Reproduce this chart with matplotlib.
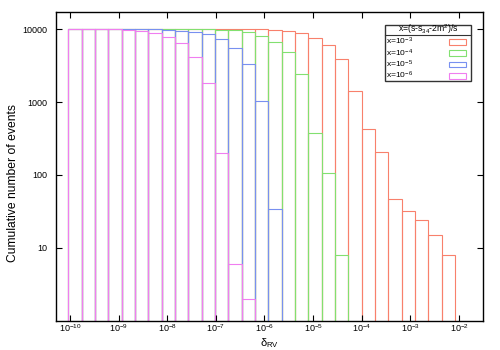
import numpy as np
import matplotlib
matplotlib.use('Agg')
import matplotlib.pyplot as plt
from matplotlib.patches import Rectangle
from matplotlib.lines import Line2D
from matplotlib.ticker import NullLocator, FixedLocator, FixedFormatter

plt.rcParams['font.family'] = ['Liberation Sans', 'DejaVu Sans']
plt.rcParams['mathtext.fontset'] = 'custom'
plt.rcParams['mathtext.rm'] = 'Liberation Sans'
plt.rcParams['mathtext.it'] = 'Liberation Sans:italic'
plt.rcParams['mathtext.bf'] = 'Liberation Sans:bold'
plt.rcParams['mathtext.default'] = 'regular'

# ---- data ----
bin_edges = np.logspace(-10.035, -2.08, 30)   # 29 log-spaced bins

legend_title = 'x=(s-s$_{34}$-2m$^{2}$)/s'
series_labels = ['x=10$^{-3}$', 'x=10$^{-4}$', 'x=10$^{-5}$', 'x=10$^{-6}$']

counts_x1e3 = [10000, 10000, 10000, 10000, 10000, 10000, 10000, 10000, 10000, 10000,
               10000, 10000, 10000, 10000, 9950, 9650, 9350, 8800, 7650, 6000,
               3870, 1410, 425, 206, 47, 32, 24, 15, 8]
counts_x1e4 = [10000, 10000, 10000, 10000, 10000, 10000, 10000, 10000, 10000, 10000,
               9980, 9900, 9650, 9050, 8150, 6700, 4800, 2430, 378, 106,
               8, 0, 0, 0, 0, 0, 0, 0, 0]
counts_x1e5 = [10000, 10000, 10000, 10000, 10000, 10000, 10000, 9900, 9600, 9250,
               8500, 7250, 5550, 3300, 1020, 34, 0, 0, 0, 0,
               0, 0, 0, 0, 0, 0, 0, 0, 0]
counts_x1e6 = [10000, 10000, 10000, 10000, 9800, 9500, 8900, 7900, 6400, 4200,
               1850, 199, 6, 2, 0, 0, 0, 0, 0, 0,
               0, 0, 0, 0, 0, 0, 0, 0, 0]

x_ticks = [1e-10, 1e-9, 1e-8, 1e-7, 1e-6, 1e-5, 1e-4, 1e-3, 1e-2]
x_ticklabels = ['10$^{-10}$', '10$^{-9}$', '10$^{-8}$', '10$^{-7}$', '10$^{-6}$',
                '10$^{-5}$', '10$^{-4}$', '10$^{-3}$', '10$^{-2}$']
y_ticks = [10, 100, 1000, 10000]
y_ticklabels = ['10', '100', '1000', '10000']

colors = ['#f8806c', '#82e070', '#7890f0', '#f07ef0']
all_counts = [counts_x1e3, counts_x1e4, counts_x1e5, counts_x1e6]

W, H = 500, 350
fig = plt.figure(figsize=(W / 100, H / 100), dpi=100)
ax_l, ax_r, ax_t, ax_b = 55.7, 483.3, 11.7, 320.5
ax = fig.add_axes([ax_l / W, 1 - ax_b / H, (ax_r - ax_l) / W, (ax_b - ax_t) / H])
ax.set_xscale('log')
ax.set_yscale('log')

lefts = bin_edges[:-1]
widths = np.diff(bin_edges)
for counts, color in zip(all_counts, colors):
    c = np.asarray(counts, dtype=float)
    m = c > 0
    ax.bar(lefts[m], c[m] - 0.1, bottom=0.1, width=widths[m], align='edge',
           fill=False, edgecolor=color, linewidth=0.8)

ax.set_xlim(10 ** -10.294, 10 ** -1.5)
ax.set_ylim(1, 17400)

ax.xaxis.set_major_locator(FixedLocator(x_ticks))
ax.xaxis.set_major_formatter(FixedFormatter(x_ticklabels))
ax.xaxis.set_minor_locator(NullLocator())
ax.yaxis.set_major_locator(FixedLocator(y_ticks))
ax.yaxis.set_major_formatter(FixedFormatter(y_ticklabels))
ax.yaxis.set_minor_locator(NullLocator())
ax.tick_params(which='both', direction='in', top=True, right=True, length=4,
               width=0.8, labelsize=6.5)
ax.tick_params(axis='x', pad=1.5)
ax.tick_params(axis='y', pad=6)
for s in ax.spines.values():
    s.set_linewidth(1.0)

fig.text(269.5 / W, 1 - 343.5 / H, 'δ$_{RV}$', ha='center', va='center', fontsize=8)
fig.text(13 / W, 1 - 183 / H, 'Cumulative number of events', rotation=90,
         ha='center', va='center', fontsize=8.7)

# ---- legend (gnuplot style) ----
def fx(x):
    return x / W

def fy(y):
    return 1 - y / H

lx0, lx1, ly0, ly1 = 385.3, 471.0, 24.7, 81.3
fig.add_artist(Rectangle((fx(lx0), fy(ly1)), fx(lx1) - fx(lx0), fy(ly0) - fy(ly1),
                         transform=fig.transFigure, fill=True, facecolor='white',
                         edgecolor='#333333', linewidth=1.0, zorder=5))
fig.add_artist(Line2D([fx(lx0), fx(lx1)], [fy(34.5), fy(34.5)],
                      transform=fig.transFigure, color='#333333', linewidth=0.8, zorder=6))
fig.text(fx(428.5), fy(29.5), legend_title, ha='center', va='center', fontsize=6.2, zorder=7)
row_y = [41.8, 53.2, 64.5, 75.8]
for lab, col, yy in zip(series_labels, colors, row_y):
    fig.text(fx(386.0), fy(yy), lab, ha='left', va='center', fontsize=6.1, zorder=7)
    fig.add_artist(Rectangle((fx(449.3), fy(yy + 2.8)), fx(465.7) - fx(449.3),
                             fy(yy - 2.8) - fy(yy + 2.8), transform=fig.transFigure,
                             fill=False, edgecolor=col, linewidth=0.8, zorder=7))

fig.savefig('out.png', dpi=100)
